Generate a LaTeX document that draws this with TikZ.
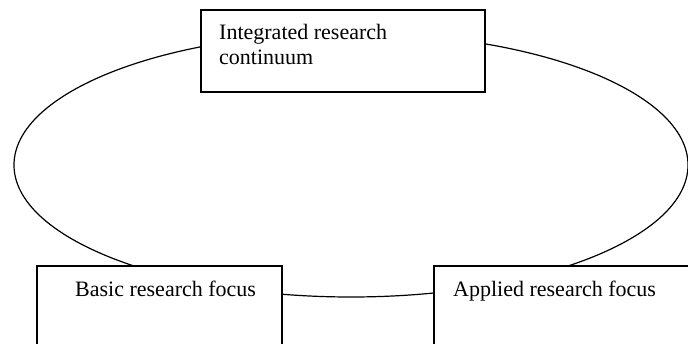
\documentclass[tikz,border=0pt]{standalone}
\usepackage{fontspec}
\setmainfont{Liberation Serif}
\usetikzlibrary{positioning}
\tikzset{
  rbox/.style    = {draw=black,line width=1.2pt,fill=white,anchor=north west,
                    inner sep=0pt,outer sep=0pt},
  boxtext/.style = {align=left,inner sep=0pt,
                    font=\fontsize{22}{25}\selectfont},
  ring/.style    = {draw=black,line width=1.2pt},
}
\begin{document}
\begin{tikzpicture}[x=1pt,y=-1pt]
  \useasboundingbox (0,0) rectangle (688,344);
  % the cycle behind the three boxes
  \coordinate (hub) at (351,165);
  \draw[ring] (hub) ellipse [x radius=337pt, y radius=132pt];
  % boxes
  \node[rbox,minimum width=284pt,minimum height=82pt] (integ) at (201,10) {};
  \node[rbox,minimum width=245pt,minimum height=110pt] (basic) at (37,266) {};
  \node[rbox,minimum width=300pt,minimum height=110pt] (applied) at (434,266) {};
  % texts
  \node[boxtext,anchor=north west,below right=14pt and 18pt of integ.north west]
        (integ text) {Integrated research\\continuum};
  \node[boxtext,anchor=north west,below right=15pt and 38pt of basic.north west]
        (basic text) {Basic research focus};
  \node[boxtext,anchor=north west,below right=15pt and 19pt of applied.north west]
        (applied text) {Applied research focus};
\end{tikzpicture}
\end{document}
